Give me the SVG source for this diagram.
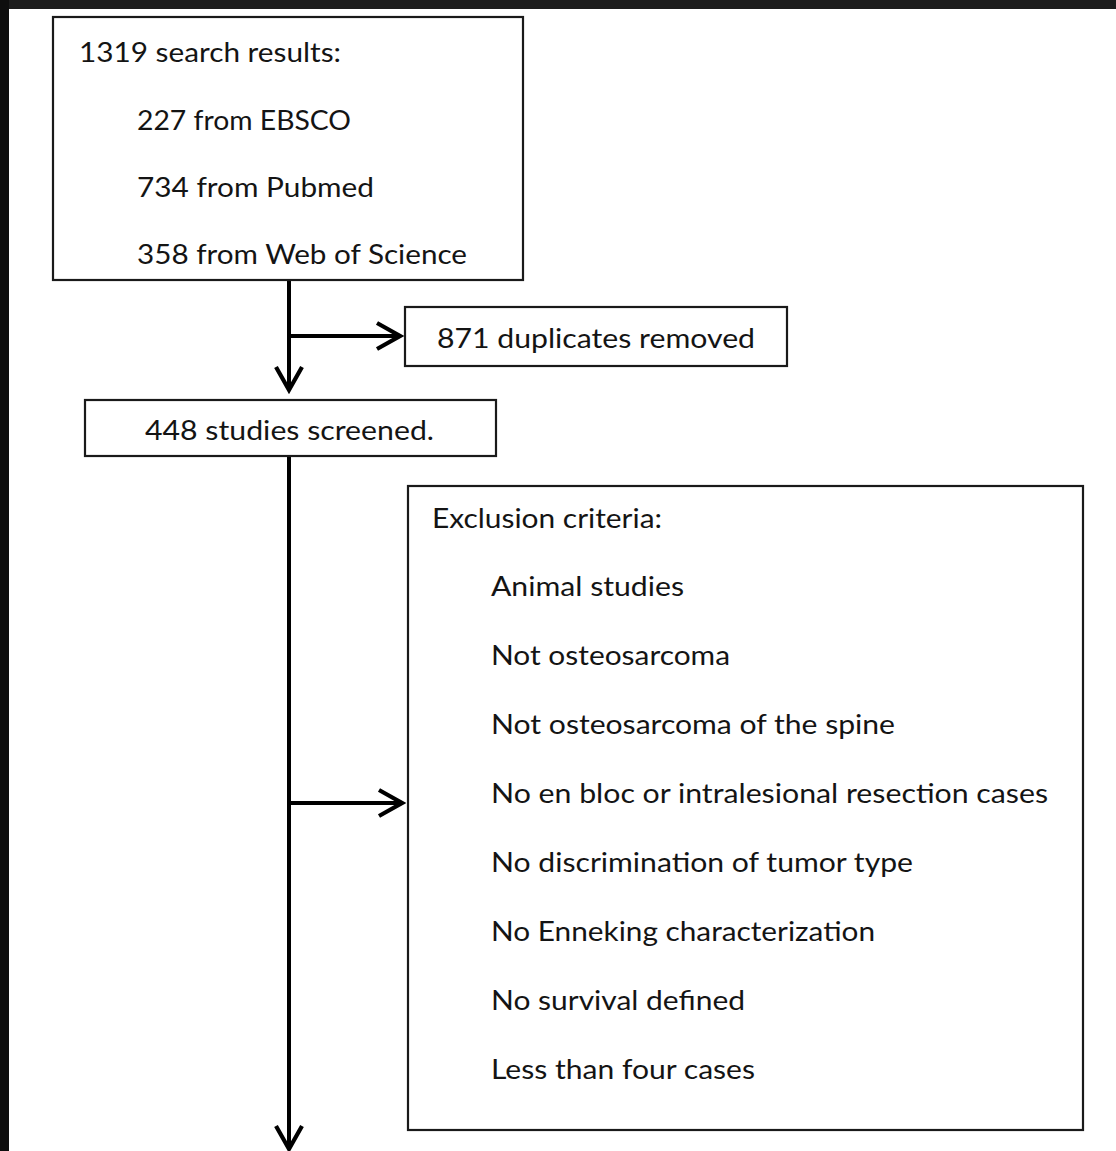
<svg xmlns="http://www.w3.org/2000/svg" width="1116" height="1151" viewBox="0 0 1116 1151">
  <defs>
    <style>
      .box { fill: #ffffff; stroke: #1a1a1a; stroke-width: 2.2; }
      .t { font-family: Lato, "Open Sans", "DejaVu Sans", sans-serif; font-size: 27px; fill: #141414; }
      .conn { fill: none; stroke: #000000; stroke-width: 4; }
      .head { fill: none; stroke: #000000; stroke-width: 4.2; stroke-linejoin: miter; }
    </style>
    <marker id="arrow" markerUnits="userSpaceOnUse" viewBox="-28 -16 32 32" refX="0" refY="0" markerWidth="32" markerHeight="32" orient="auto">
      <path class="head" d="M -23 -13 L 0 0 L -23 13"/>
    </marker>
  </defs>

  <rect x="0" y="0" width="1116" height="1151" fill="#1c1c1c"/>
  <rect x="0" y="0" width="9" height="1151" fill="#0e0e0e"/>
  <rect x="9" y="9" width="1107" height="1142" fill="#ffffff"/>

  <g id="connectors">
    <path class="conn" d="M 289 280 L 289 390" marker-end="url(#arrow)"/>
    <path class="conn" d="M 289 336 L 400 336" marker-end="url(#arrow)"/>
    <path class="conn" d="M 289 456 L 289 1149" marker-end="url(#arrow)"/>
    <path class="conn" d="M 289 803 L 402 803" marker-end="url(#arrow)"/>
  </g>

  <g id="search-results">
    <rect class="box" x="53" y="17" width="470" height="263"/>
    <text class="t" x="79" y="62" textLength="262" lengthAdjust="spacingAndGlyphs">1319 search results:</text>
    <text class="t" x="137" y="130" textLength="214" lengthAdjust="spacingAndGlyphs">227 from EBSCO</text>
    <text class="t" x="137" y="197" textLength="237" lengthAdjust="spacingAndGlyphs">734 from Pubmed</text>
    <text class="t" x="137" y="264" textLength="330" lengthAdjust="spacingAndGlyphs">358 from Web of Science</text>
  </g>

  <g id="duplicates">
    <rect class="box" x="405" y="307" width="382" height="59"/>
    <text class="t" x="437" y="348" textLength="318" lengthAdjust="spacingAndGlyphs">871 duplicates removed</text>
  </g>

  <g id="screened">
    <rect class="box" x="85" y="400" width="411" height="56"/>
    <text class="t" x="145" y="440" textLength="289" lengthAdjust="spacingAndGlyphs">448 studies screened.</text>
  </g>

  <g id="exclusion">
    <rect class="box" x="408" y="486" width="675" height="644"/>
    <text class="t" x="432" y="528" textLength="230" lengthAdjust="spacingAndGlyphs">Exclusion criteria:</text>
    <text class="t" x="491" y="596" textLength="193" lengthAdjust="spacingAndGlyphs">Animal studies</text>
    <text class="t" x="491" y="665" textLength="239" lengthAdjust="spacingAndGlyphs">Not osteosarcoma</text>
    <text class="t" x="491" y="734" textLength="404" lengthAdjust="spacingAndGlyphs">Not osteosarcoma of the spine</text>
    <text class="t" x="491" y="803" textLength="557" lengthAdjust="spacingAndGlyphs">No en bloc or intralesional resection cases</text>
    <text class="t" x="491" y="872" textLength="422" lengthAdjust="spacingAndGlyphs">No discrimination of tumor type</text>
    <text class="t" x="491" y="941" textLength="384" lengthAdjust="spacingAndGlyphs">No Enneking characterization</text>
    <text class="t" x="491" y="1010" textLength="254" lengthAdjust="spacingAndGlyphs">No survival defined</text>
    <text class="t" x="491" y="1079" textLength="264" lengthAdjust="spacingAndGlyphs">Less than four cases</text>
  </g>
</svg>
